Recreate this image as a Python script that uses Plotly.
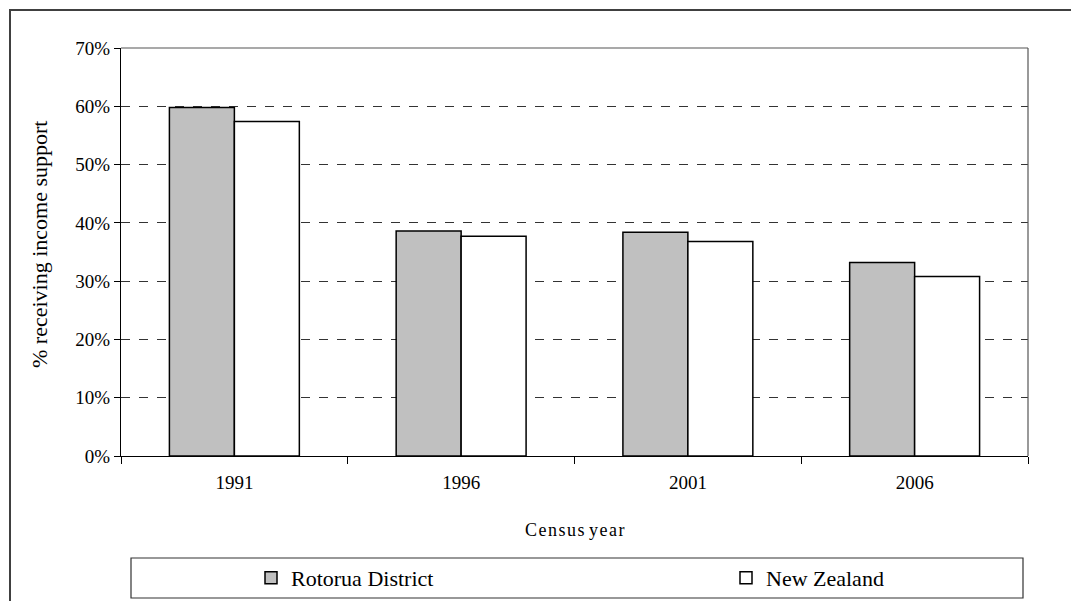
import plotly.graph_objects as go

# Census years and share receiving income support (fractions)
years = ["1991", "1996", "2001", "2006"]
rotorua = [0.598, 0.386, 0.384, 0.332]
new_zealand = [0.574, 0.377, 0.368, 0.308]
series_names = ["Rotorua District", "New Zealand"]
y_ticks = [0, 0.1, 0.2, 0.3, 0.4, 0.5, 0.6, 0.7]
y_tick_labels = ["0%", "10%", "20%", "30%", "40%", "50%", "60%", "70%"]

FONT = "Liberation Serif, Times New Roman, serif"
W, H = 1071, 601
L, R, T, B = 121, 43, 48, 145
pw, ph = W - L - R, H - T - B


def px_x(p):
    return (p - L) / pw


def px_y(p):
    return (H - B - p) / ph


fig = go.Figure()
fig.add_trace(go.Bar(
    x=years, y=rotorua, name=series_names[0], legend="legend",
    marker=dict(color="#C0C0C0", line=dict(color="#000000", width=1.5)),
))
fig.add_trace(go.Bar(
    x=years, y=new_zealand, name=series_names[1], legend="legend2",
    marker=dict(color="#FFFFFF", line=dict(color="#000000", width=1.5)),
))

shapes = [
    # outer frame around the whole figure
    dict(type="rect", xref="paper", yref="paper",
         x0=px_x(10), x1=px_x(1100), y0=px_y(10), y1=px_y(650),
         line=dict(color="#404040", width=2), layer="below"),
    # plot area border (top and right)
    dict(type="line", xref="paper", yref="paper",
         x0=1, x1=1, y0=0, y1=1, line=dict(color="#555555", width=1.2)),
    dict(type="line", xref="paper", yref="paper",
         x0=0, x1=1, y0=1, y1=1, line=dict(color="#555555", width=1.2)),
    # legend box
    dict(type="rect", xref="paper", yref="paper",
         x0=px_x(131), x1=px_x(1023), y0=px_y(558), y1=px_y(598),
         line=dict(color="#333333", width=1.2), fillcolor="rgba(0,0,0,0)"),
]

HS = "\u200a"
x_title = " ".join(HS.join(word) for word in ["Census", "year"])

annotations = [
    dict(text="% receiving income support", xref="paper", yref="paper",
         x=px_x(40), y=px_y(245), xanchor="center", yanchor="middle",
         textangle=-90, showarrow=False,
         font=dict(family=FONT, size=22, color="#000000")),
    dict(text=x_title, xref="paper", yref="paper",
         x=px_x(575), y=px_y(530), xanchor="center", yanchor="middle",
         showarrow=False,
         font=dict(family=FONT, size=18, color="#000000")),
]

legend_common = dict(
    orientation="h", xanchor="left", yanchor="middle",
    font=dict(family=FONT, size=22, color="#000000"),
    bgcolor="rgba(0,0,0,0)", borderwidth=0,
)

fig.update_layout(
    width=W, height=H,
    margin=dict(l=L, r=R, t=T, b=B, autoexpand=False),
    paper_bgcolor="#FFFFFF", plot_bgcolor="#FFFFFF",
    barmode="group", bargap=0.427, bargroupgap=0,
    font=dict(family=FONT, size=18, color="#000000"),
    showlegend=True,
    legend=dict(x=px_x(251), y=px_y(578), **legend_common),
    legend2=dict(x=px_x(726), y=px_y(578), **legend_common),
    shapes=shapes,
    annotations=annotations,
)

fig.update_xaxes(
    type="category", showline=True, linecolor="#000000", linewidth=1.2,
    ticks="outside", tickson="boundaries", ticklen=7, tickcolor="#000000",
    ticklabelstandoff=9, showgrid=False,
    tickfont=dict(family=FONT, size=19, color="#000000"),
)
fig.update_yaxes(
    range=[0, 0.7], tickvals=y_ticks, ticktext=y_tick_labels,
    showline=True, linecolor="#000000", linewidth=1.2,
    ticks="outside", ticklen=6, tickcolor="#000000",
    showgrid=True, gridcolor="#333333", griddash="dash", gridwidth=1,
    zeroline=False,
    tickfont=dict(family=FONT, size=19, color="#000000"),
)

fig.write_html("out.html")
